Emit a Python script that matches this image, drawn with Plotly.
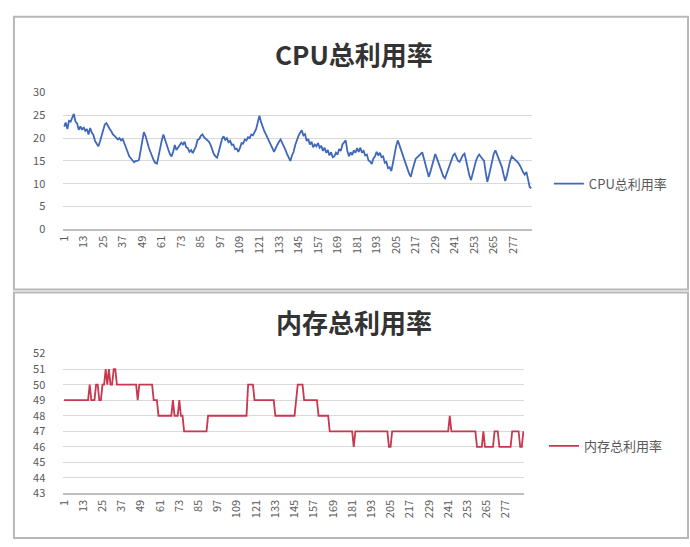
import plotly.graph_objects as go

W, H = 690, 547

# sample index (one point per 5-minute interval over a day)
samples = list(range(1, 289))
tick_labels = ["1", "13", "25", "37", "49", "61", "73", "85", "97", "109", "121", "133",
               "145", "157", "169", "181", "193", "205", "217", "229", "241", "253", "265", "277"]

cpu_name = "CPU总利用率"
mem_name = "内存总利用率"

cpu_usage = [
    22.5, 23.4, 22.0, 23.8, 23.6, 24.5, 25.3, 23.6, 23.2, 21.8, 22.6, 21.8,
    22.4, 21.6, 22.0, 20.8, 22.2, 21.2, 20.7, 19.4, 18.6, 18.2, 19.2, 20.5,
    22.0, 23.0, 23.3, 22.5, 22.0, 21.5, 20.8, 20.5, 20.0, 19.7, 20.0, 19.5,
    19.8, 19.0, 18.0, 17.0, 16.0, 15.5, 15.0, 14.7, 15.0, 15.0, 15.2, 17.5,
    20.0, 21.3, 20.5, 19.0, 18.0, 17.0, 16.0, 15.2, 14.6, 14.4, 16.0, 18.0,
    19.5, 20.8, 19.5, 18.5, 17.5, 16.5, 16.0, 17.0, 18.5, 17.4, 18.0, 18.5,
    19.0, 18.6, 19.2, 18.0, 17.8, 17.0, 17.4, 16.7, 17.5, 18.2, 19.6, 19.8,
    20.5, 20.8, 20.2, 19.8, 19.5, 19.2, 18.5, 17.4, 16.5, 16.0, 15.7, 17.0,
    18.5, 19.8, 20.4, 19.6, 20.0, 19.1, 19.4, 18.5, 18.6, 17.6, 17.7, 17.0,
    17.8, 18.9, 18.8, 19.7, 19.5, 20.2, 20.0, 20.8, 20.6, 21.3, 22.0, 23.5,
    24.9, 23.5, 22.2, 21.5, 20.8, 20.0, 19.3, 18.5, 17.6, 17.0, 17.8, 18.6,
    19.2, 19.7, 19.0, 18.2, 17.4, 16.5, 15.6, 15.0, 16.2, 17.0, 18.5, 19.8,
    20.5, 21.2, 21.7, 20.6, 20.9, 19.4, 19.8, 18.6, 19.2, 18.0, 18.6, 18.2,
    18.9, 17.9, 18.3, 17.2, 17.9, 16.8, 17.4, 16.2, 16.9, 15.8, 16.0, 16.8,
    16.4, 17.6, 17.2, 18.6, 19.2, 19.5, 17.2, 16.0, 16.9, 16.3, 17.3, 16.8,
    17.8, 17.0, 17.9, 16.8, 17.2, 16.2, 16.4, 15.1, 14.9, 14.3, 15.5, 16.0,
    17.0, 16.2, 16.8, 15.8, 16.0, 14.6, 14.8, 13.4, 13.6, 12.8, 14.5, 16.5,
    18.3, 19.5, 18.4, 17.2, 16.0, 15.2, 14.2, 13.2, 12.2, 11.5, 13.0, 14.5,
    15.5, 15.8, 16.2, 16.6, 16.9, 15.6, 14.2, 12.8, 11.5, 12.6, 14.0, 15.4,
    16.5, 15.6, 14.5, 13.4, 12.4, 11.6, 11.2, 12.3, 13.4, 14.5, 15.6, 16.2,
    16.6, 15.8, 15.0, 14.8, 15.6, 16.3, 16.6, 15.0, 13.2, 11.8, 10.8, 12.4,
    13.8, 15.0, 15.9, 16.4, 15.9, 15.3, 15.0, 12.5, 10.4, 11.8, 13.6, 15.2,
    16.6, 17.3, 16.4, 15.4, 14.5, 13.6, 12.0, 10.6, 11.8, 13.5, 15.0, 16.0,
    15.7, 15.3, 14.9, 14.6, 14.0, 13.2, 12.5, 12.0, 12.6, 11.0, 9.3, 9.0,
]

mem_usage = [
    49, 49, 49, 49, 49, 49, 49, 49, 49, 49, 49, 49, 49, 49, 49, 49, 50, 49, 49, 49, 50, 50, 49, 49,
    50, 50, 51, 50, 51, 50, 50, 51, 51, 50, 50, 50, 50, 50, 50, 50, 50, 50, 50, 50, 50, 50, 49, 50,
    50, 50, 50, 50, 50, 50, 50, 50, 49, 49, 49, 48, 48, 48, 48, 48, 48, 48, 48, 48, 49, 48, 48, 48,
    49, 48, 48, 47, 47, 47, 47, 47, 47, 47, 47, 47, 47, 47, 47, 47, 47, 47, 48, 48, 48, 48, 48, 48,
    48, 48, 48, 48, 48, 48, 48, 48, 48, 48, 48, 48, 48, 48, 48, 48, 48, 48, 48, 50, 50, 50, 50, 49,
    49, 49, 49, 49, 49, 49, 49, 49, 49, 49, 49, 49, 48, 48, 48, 48, 48, 48, 48, 48, 48, 48, 48, 48,
    48, 49, 50, 50, 50, 50, 49, 49, 49, 49, 49, 49, 49, 49, 49, 48, 48, 48, 48, 48, 48, 48, 47, 47,
    47, 47, 47, 47, 47, 47, 47, 47, 47, 47, 47, 47, 47, 46, 47, 47, 47, 47, 47, 47, 47, 47, 47, 47,
    47, 47, 47, 47, 47, 47, 47, 47, 47, 47, 47, 46, 46, 47, 47, 47, 47, 47, 47, 47, 47, 47, 47, 47,
    47, 47, 47, 47, 47, 47, 47, 47, 47, 47, 47, 47, 47, 47, 47, 47, 47, 47, 47, 47, 47, 47, 47, 47,
    47, 48, 47, 47, 47, 47, 47, 47, 47, 47, 47, 47, 47, 47, 47, 47, 47, 47, 46, 46, 46, 46, 47, 46,
    46, 46, 46, 46, 46, 47, 47, 47, 46, 46, 46, 46, 46, 46, 46, 46, 47, 47, 47, 47, 47, 46, 46, 47,
]

cpu_yticks = [0, 5, 10, 15, 20, 25, 30]
mem_yticks = [43, 44, 45, 46, 47, 48, 49, 50, 51, 52]

CPU_COLOR = "#3f68b8"
MEM_COLOR = "#C8374E"
GRID = "#d9d9d9"
AXIS = "#bfbfbf"
LABEL = "#595959"
FONT = "Noto Sans CJK SC"


def px_x(x):
    return x / W


def px_y(y):
    return 1 - y / H


fig = go.Figure()

fig.add_trace(go.Scatter(
    x=samples, y=cpu_usage, mode="lines", name=cpu_name,
    line=dict(color=CPU_COLOR, width=1.8), xaxis="x", yaxis="y", legend="legend",
))
fig.add_trace(go.Scatter(
    x=samples, y=mem_usage, mode="lines", name=mem_name,
    line=dict(color=MEM_COLOR, width=1.8), xaxis="x2", yaxis="y2", legend="legend2",
))

xaxis_common = dict(
    tickmode="array", tickvals=[int(t) for t in tick_labels], ticktext=tick_labels,
    tickangle=-90, tickfont=dict(size=11, color=LABEL, family=FONT),
    showgrid=False, showline=True, linecolor=AXIS, linewidth=2, ticks="",
    range=[0.5, 288.5], zeroline=False, fixedrange=True,
)
yaxis_common = dict(
    showgrid=True, gridcolor=GRID, gridwidth=1, showline=False, zeroline=False,
    tickfont=dict(size=11, color=LABEL, family=FONT), ticks="", ticklabelstandoff=17,
)

legend_style = dict(xanchor="left", yanchor="middle", font=dict(size=13, color=LABEL, family=FONT),
                    bgcolor="rgba(0,0,0,0)", itemwidth=30)

fig.update_layout(
    width=W, height=H,
    margin=dict(l=0, r=0, t=0, b=0),
    paper_bgcolor="white", plot_bgcolor="white",
    font=dict(family=FONT, color=LABEL),
    xaxis=dict(domain=[px_x(55), px_x(530)], anchor="y", **xaxis_common),
    yaxis=dict(domain=[px_y(227), px_y(86)], anchor="x", range=[0, 30],
               tickvals=cpu_yticks, **yaxis_common),
    xaxis2=dict(domain=[px_x(55), px_x(522)], anchor="y2", **xaxis_common),
    yaxis2=dict(domain=[px_y(499), px_y(355)], anchor="x2", range=[43, 52],
                tickvals=mem_yticks, **yaxis_common),
    legend=dict(x=px_x(547), y=px_y(180), **legend_style),
    legend2=dict(x=px_x(542), y=px_y(450), **legend_style),
    showlegend=True,
    annotations=[
        dict(text="<b>" + cpu_name + "</b>", x=px_x(350), y=px_y(46), xref="paper", yref="paper",
             xanchor="center", yanchor="middle", showarrow=False,
             font=dict(size=26, color="#333333", family=FONT)),
        dict(text="<b>" + mem_name + "</b>", x=px_x(350), y=px_y(322), xref="paper", yref="paper",
             xanchor="center", yanchor="middle", showarrow=False,
             font=dict(size=26, color="#333333", family=FONT)),
    ],
    shapes=[
        # chart frames
        dict(type="rect", xref="paper", yref="paper", x0=px_x(5), x1=px_x(688), y0=px_y(289), y1=px_y(8),
             line=dict(color="#b8b8b8", width=2)),
        dict(type="rect", xref="paper", yref="paper", x0=px_x(5), x1=px_x(688), y0=px_y(545), y1=px_y(292),
             line=dict(color="#b8b8b8", width=2)),
    ],
)

fig.write_html("out.html")
